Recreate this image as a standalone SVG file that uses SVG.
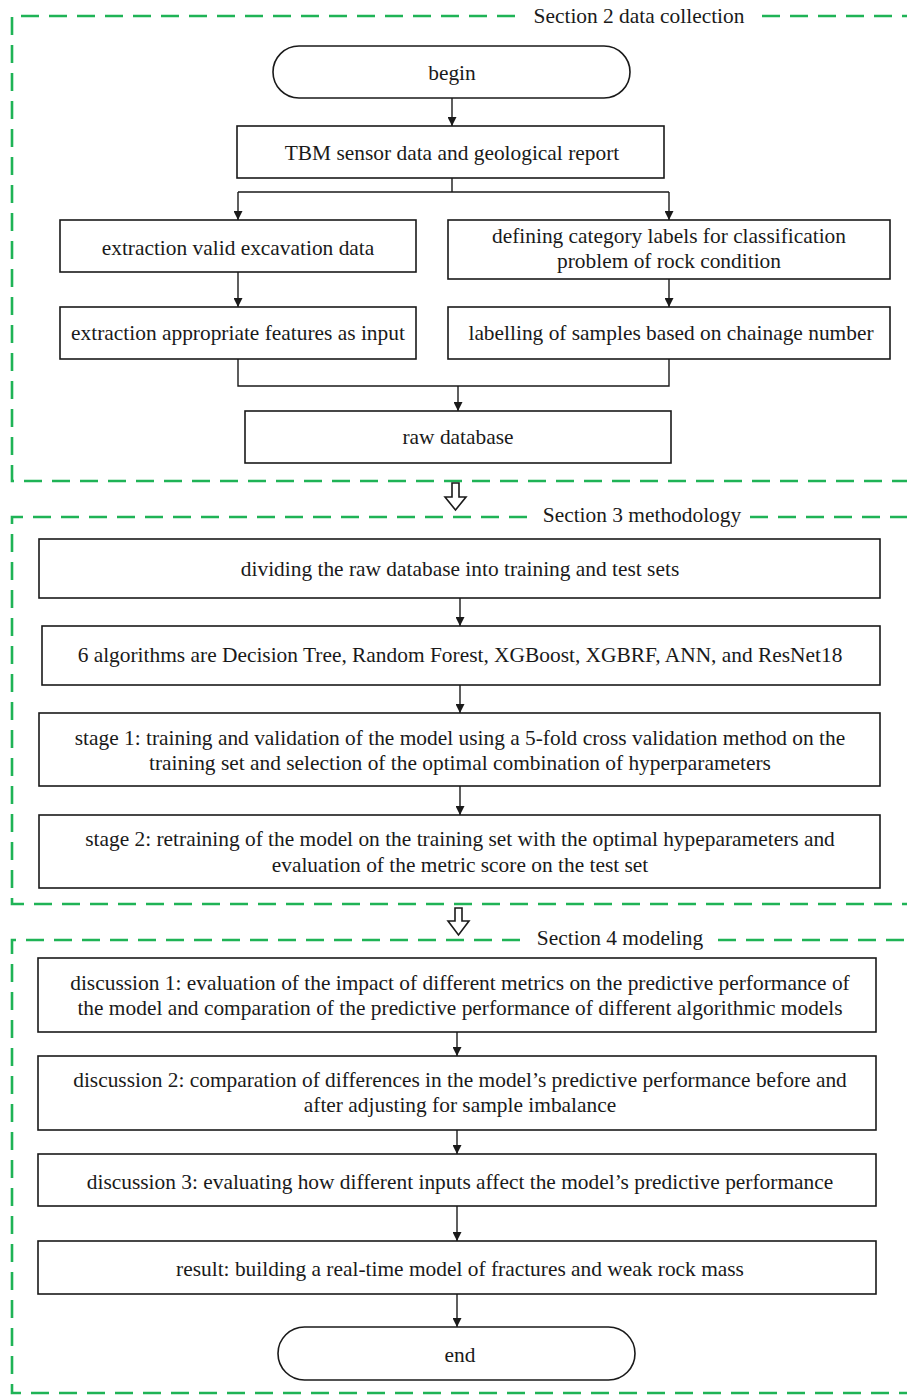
<svg xmlns="http://www.w3.org/2000/svg" width="907" height="1396" viewBox="0 0 907 1396">
<defs>
<style>
.frame{fill:none;stroke:#1fb356;stroke-width:2.6;stroke-dasharray:18 10}
.box{fill:#fff;stroke:#1a1a1a;stroke-width:1.6}
.ln{fill:none;stroke:#1a1a1a;stroke-width:1.4}
.blk{fill:#fff;stroke:#1a1a1a;stroke-width:1.6;stroke-linejoin:miter}
text{font-family:"Liberation Serif","Times New Roman",serif;font-size:21.4px;fill:#1a1a1a;text-anchor:middle}
</style>
<marker id="a" viewBox="0 0 10 10" refX="10" refY="5" markerWidth="10" markerHeight="9" markerUnits="userSpaceOnUse" orient="auto">
<path d="M0,0 L10,5 L0,10 z" fill="#1a1a1a"/>
</marker>
</defs>
<rect width="907" height="1396" fill="#fff"/>

<g id="frames">
<path class="frame" d="M515,16 L12,16 L12,481 L907,481"/>
<path class="frame" d="M762,16 L907,16"/>
<path class="frame" d="M527,517 L12,517 L12,904 L907,904"/>
<path class="frame" d="M750,517 L907,517"/>
<path class="frame" d="M520,940 L12,940 L12,1393 L907,1393"/>
<path class="frame" d="M718,940 L907,940"/>
<text x="639" y="23">Section 2 data collection</text>
<text x="642" y="522">Section 3 methodology</text>
<text x="620" y="945">Section 4 modeling</text>
</g>

<g id="connectors">
<line class="ln" x1="452" y1="98" x2="452" y2="126" marker-end="url(#a)"/>
<path class="ln" d="M452,178 V192 M238,192 H669"/>
<line class="ln" x1="238" y1="192" x2="238" y2="220" marker-end="url(#a)"/>
<line class="ln" x1="669" y1="192" x2="669" y2="220" marker-end="url(#a)"/>
<line class="ln" x1="238" y1="272" x2="238" y2="307" marker-end="url(#a)"/>
<line class="ln" x1="669" y1="279" x2="669" y2="307" marker-end="url(#a)"/>
<path class="ln" d="M238,359 V386 H669 V359"/>
<line class="ln" x1="458" y1="386" x2="458" y2="411" marker-end="url(#a)"/>
<line class="ln" x1="460" y1="598" x2="460" y2="626" marker-end="url(#a)"/>
<line class="ln" x1="460" y1="685" x2="460" y2="713" marker-end="url(#a)"/>
<line class="ln" x1="460" y1="786" x2="460" y2="815" marker-end="url(#a)"/>
<line class="ln" x1="457" y1="1032" x2="457" y2="1056" marker-end="url(#a)"/>
<line class="ln" x1="457" y1="1130" x2="457" y2="1154" marker-end="url(#a)"/>
<line class="ln" x1="457" y1="1206" x2="457" y2="1241" marker-end="url(#a)"/>
<line class="ln" x1="457" y1="1294" x2="457" y2="1327" marker-end="url(#a)"/>
<path class="blk" d="M452,483 H459 V497 H466 L455.5,510 L445,497 H452 Z"/>
<path class="blk" d="M455,908 H462 V921 H469 L458.5,935 L448,921 H455 Z"/>
</g>

<g id="begin">
<rect class="box" x="273" y="46" width="357" height="52" rx="26" ry="26"/>
<text x="452" y="80">begin</text>
</g>
<g id="tbm">
<rect class="box" x="237" y="126" width="427" height="52"/>
<text x="452" y="160">TBM sensor data and geological report</text>
</g>
<g id="extract_valid">
<rect class="box" x="60" y="220" width="356" height="52"/>
<text x="238" y="255">extraction valid excavation data</text>
</g>
<g id="defining">
<rect class="box" x="448" y="220" width="442" height="59"/>
<text x="669" y="243">defining category labels for classification</text>
<text x="669" y="268">problem of rock condition</text>
</g>
<g id="extract_features">
<rect class="box" x="60" y="307" width="356" height="52"/>
<text x="238" y="340">extraction appropriate features as input</text>
</g>
<g id="labelling">
<rect class="box" x="448" y="307" width="442" height="52"/>
<text x="671" y="340">labelling of samples based on chainage number</text>
</g>
<g id="raw">
<rect class="box" x="245" y="411" width="426" height="52"/>
<text x="458" y="444">raw database</text>
</g>

<g id="dividing">
<rect class="box" x="39" y="539" width="841" height="59"/>
<text x="460" y="576">dividing the raw database into training and test sets</text>
</g>
<g id="algorithms">
<rect class="box" x="42" y="626" width="838" height="59"/>
<text x="460" y="662">6 algorithms are Decision Tree, Random Forest, XGBoost, XGBRF, ANN, and ResNet18</text>
</g>
<g id="stage1">
<rect class="box" x="39" y="713" width="841" height="73"/>
<text x="460" y="745">stage 1: training and validation of the model using a 5-fold cross validation method on the</text>
<text x="460" y="770">training set and selection of the optimal combination of hyperparameters</text>
</g>
<g id="stage2">
<rect class="box" x="39" y="815" width="841" height="73"/>
<text x="460" y="846">stage 2: retraining of the model on the training set with the optimal hypeparameters and</text>
<text x="460" y="872">evaluation of the metric score on the test set</text>
</g>

<g id="disc1">
<rect class="box" x="38" y="958" width="838" height="74"/>
<text x="460" y="990">discussion 1: evaluation of the impact of different metrics on the predictive performance of</text>
<text x="460" y="1015">the model and comparation of the predictive performance of different algorithmic models</text>
</g>
<g id="disc2">
<rect class="box" x="38" y="1056" width="838" height="74"/>
<text x="460" y="1087">discussion 2: comparation of differences in the model’s predictive performance before and</text>
<text x="460" y="1112">after adjusting for sample imbalance</text>
</g>
<g id="disc3">
<rect class="box" x="38" y="1154" width="838" height="52"/>
<text x="460" y="1189">discussion 3: evaluating how different inputs affect the model’s predictive performance</text>
</g>
<g id="result">
<rect class="box" x="38" y="1241" width="838" height="53"/>
<text x="460" y="1276">result: building a real-time model of fractures and weak rock mass</text>
</g>
<g id="end">
<rect class="box" x="278" y="1327" width="357" height="53" rx="26.5" ry="26.5"/>
<text x="460" y="1362">end</text>
</g>
</svg>
